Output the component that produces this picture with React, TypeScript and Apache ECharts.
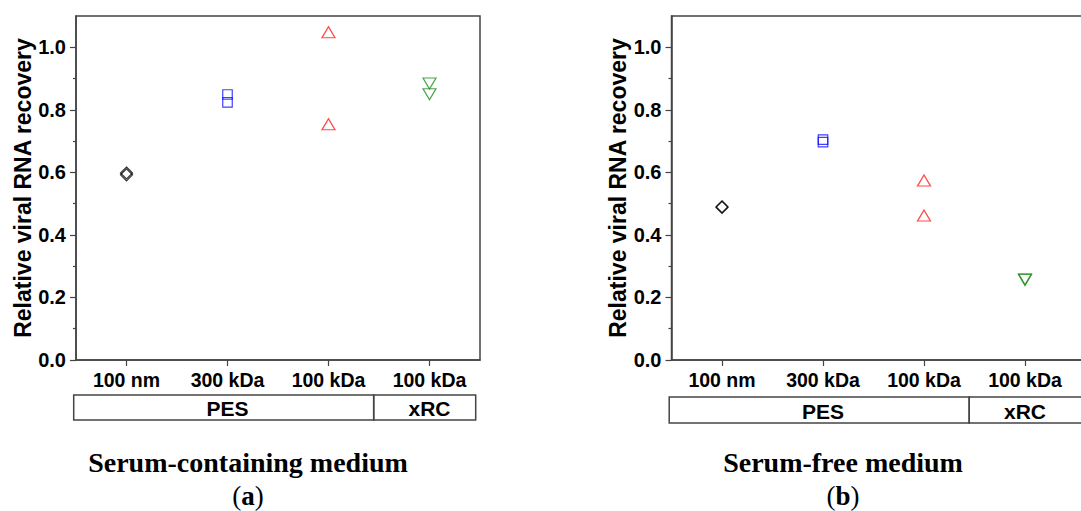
import React, { useEffect, useRef } from "react";
import * as echarts from "echarts";

// ---- data ----
const categories = ["100 nm", "300 kDa", "100 kDa", "100 kDa"];
const groups = ["PES", "xRC"];
const groupSpans = [3, 1];
const yMajorTicks = [0, 0.2, 0.4, 0.6, 0.8, 1.0];
const yMinorTicks = [0.1, 0.3, 0.5, 0.7, 0.9];
const yAxisTitle = "Relative viral RNA recovery";

// (a) Serum-containing medium
const serumPes100nm = [0.598, 0.592];
const serumPes300kDa = [0.849, 0.824];
const serumPes100kDa = [1.048, 0.754];
const serumXrc100kDa = [0.884, 0.85];

// (b) Serum-free medium
const freePes100nm = [0.49, 0.488];
const freePes300kDa = [0.705, 0.697];
const freePes100kDa = [0.574, 0.462];
const freeXrc100kDa = [0.258, 0.256];

const panelTitles = ["Serum-containing medium", "Serum-free medium"];
const panelLetters = ["a", "b"];

const SANS = "'Liberation Sans', Arial, Helvetica, sans-serif";
const SERIF = "'Liberation Serif', 'Times New Roman', serif";
const LINE = "#444";

const markerStyles = [
  { symbol: "diamond", size: [12, 12], rotate: 0, color: "#000000" },
  { symbol: "rect", size: [9.5, 9.5], rotate: 0, color: "#1010ff" },
  { symbol: "triangle", size: [13, 11], rotate: 0, color: "#ff1a1a" },
  { symbol: "triangle", size: [13, 11], rotate: 180, color: "#1f8f1f" },
];

export default function App() {
  const ref = useRef<HTMLDivElement>(null);
  useEffect(() => {
    if (!ref.current) return;
    const chart = echarts.init(ref.current, null, { renderer: "svg" });

    const gridLefts = [76, 671.5];
    const cellW = 101;
    const gridTop = 16;
    const gridH = 344;
    const boxTops = [395, 397];
    const boxH = [25, 26];
    const panels = [
      [serumPes100nm, serumPes300kDa, serumPes100kDa, serumXrc100kDa],
      [freePes100nm, freePes300kDa, freePes100kDa, freeXrc100kDa],
    ];

    const grids: any[] = [];
    const xAxes: any[] = [];
    const yAxes: any[] = [];
    const series: any[] = [];
    const graphics: any[] = [];

    panels.forEach((panel, p) => {
      const cats = p === 0 ? categories : [...categories, ""];
      grids.push({
        left: gridLefts[p],
        top: gridTop,
        width: cellW * cats.length,
        height: gridH,
        containLabel: false,
        outerBoundsMode: "none",
        show: true,
        borderColor: LINE,
        borderWidth: 1.5,
        backgroundColor: "transparent",
      });
      xAxes.push({
        type: "category",
        gridIndex: p,
        data: cats,
        boundaryGap: true,
        axisLine: { show: true, lineStyle: { color: LINE, width: 1.5 } },
        axisTick: {
          show: true,
          alignWithLabel: true,
          length: 6,
          interval: (i: number) => i < categories.length,
          lineStyle: { color: LINE, width: 1.2 },
        },
        axisLabel: {
          interval: 0,
          margin: 10,
          fontSize: 19.5,
          fontWeight: "bold",
          fontFamily: SANS,
          color: "#000",
        },
        splitLine: { show: false },
      });
      yAxes.push({
        type: "value",
        gridIndex: p,
        position: "left",
        min: 0,
        max: 1.1,
        interval: 0.1,
        axisLine: { show: true, lineStyle: { color: LINE, width: 1.5 } },
        axisTick: {
          show: true,
          length: 6,
          customValues: yMajorTicks,
          lineStyle: { color: LINE, width: 1.2 },
        },
        axisLabel: {
          customValues: yMajorTicks,
          formatter: (v: number) => v.toFixed(1),
          margin: 10,
          fontSize: 20,
          fontWeight: "bold",
          fontFamily: SANS,
          color: "#000",
        },
        splitLine: { show: false },
        name: yAxisTitle,
        nameLocation: "middle",
        nameGap: 42,
        nameTextStyle: {
          fontSize: 23,
          fontWeight: "bold",
          fontFamily: SANS,
          color: "#000",
        },
      });
      yAxes.push({
        type: "value",
        gridIndex: p,
        position: "left",
        offset: 0,
        min: 0,
        max: 1.1,
        interval: 0.1,
        axisLine: { show: false },
        axisTick: {
          show: true,
          length: 3,
          customValues: yMinorTicks,
          lineStyle: { color: LINE, width: 1.2 },
        },
        axisLabel: { show: false },
        splitLine: { show: false },
      });

      panel.forEach((vals, c) => {
        const m = markerStyles[c];
        series.push({
          type: "scatter",
          xAxisIndex: p,
          yAxisIndex: p * 2,
          symbol: m.symbol,
          symbolSize: m.size,
          symbolRotate: m.rotate,
          itemStyle: {
            color: "rgba(0,0,0,0)",
            borderColor: m.color,
            borderWidth: 1.2,
          },
          data: vals.map((v) => [c, v]),
        });
      });

      // group boxes under the category axis
      let start = 0;
      const x0 = gridLefts[p] - 2.3;
      groups.forEach((g, gi) => {
        const span = groupSpans[gi];
        const bx = x0 + start * cellW - (start > 0 ? 3 : 0);
        let bw = span * cellW - (start === 0 ? 3 : -1);
        if (p === 1 && gi === groups.length - 1) bw += 30;
        graphics.push({
          type: "rect",
          shape: { x: bx, y: boxTops[p], width: bw, height: boxH[p] },
          style: { fill: "none", stroke: LINE, lineWidth: 1.5 },
          silent: true,
        });
        const cx = gridLefts[p] + (start + span / 2) * cellW;
        graphics.push({
          type: "text",
          x: cx,
          y: boxTops[p] + boxH[p] / 2 + 1,
          style: {
            text: g,
            fontSize: 21,
            fontWeight: "bold",
            fontFamily: SANS,
            fill: "#000",
            textAlign: "center",
            textVerticalAlign: "middle",
          },
          silent: true,
        });
        start += span;
      });

      const tcx = p === 0 ? 248 : 843;
      graphics.push({
        type: "text",
        x: tcx,
        y: 462,
        style: {
          text: panelTitles[p],
          fontSize: 28,
          fontWeight: "bold",
          fontFamily: SERIF,
          fill: "#000",
          textAlign: "center",
          textVerticalAlign: "middle",
        },
        silent: true,
      });
      graphics.push({
        type: "text",
        x: tcx,
        y: 496,
        style: {
          text: "{p|(}{b|" + panelLetters[p] + "}{p|)}",
          rich: {
            p: { fontSize: 27, fontFamily: SERIF, fill: "#000", fontWeight: "normal" },
            b: { fontSize: 27, fontFamily: SERIF, fill: "#000", fontWeight: "bold" },
          },
          fontSize: 27,
          fontFamily: SERIF,
          fill: "#000",
          textAlign: "center",
          textVerticalAlign: "middle",
        },
        silent: true,
      });
    });

    chart.setOption({
      animation: false,
      backgroundColor: "#ffffff",
      grid: grids,
      xAxis: xAxes,
      yAxis: yAxes,
      series,
      graphic: graphics,
    });
    return () => chart.dispose();
  }, []);

  return (
    <div
      ref={ref}
      style={{ position: "fixed", left: 0, top: 0, width: 1081, height: 511 }}
    />
  );
}
